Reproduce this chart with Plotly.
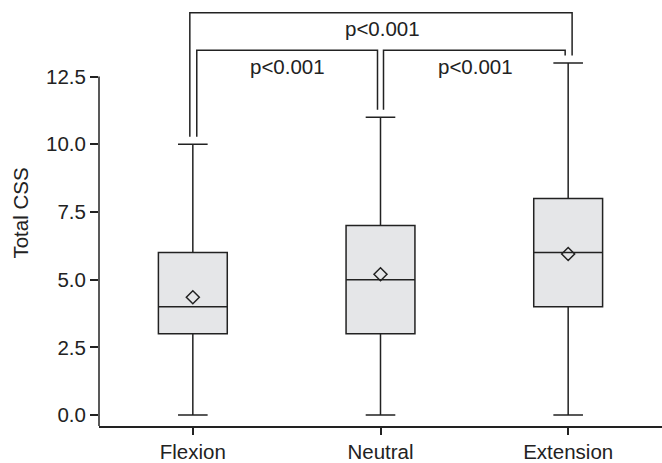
import plotly.graph_objects as go

categories = ["Flexion", "Neutral", "Extension"]
minimum = [0, 0, 0]
q1 = [3, 3, 4]
median = [4, 5, 6]
q3 = [6, 7, 8]
maximum = [10, 11, 13]
mean = [4.35, 5.2, 5.95]
y_ticks = [0, 2.5, 5, 7.5, 10, 12.5]
comparisons = [(0, 1, "p<0.001"), (1, 2, "p<0.001"), (0, 2, "p<0.001")]

INK = "#222222"
FONT = "Liberation Sans, Arial, sans-serif"
FS = 20.5

fig = go.Figure()
fig.add_trace(go.Box(
    x=categories, q1=q1, median=median, q3=q3,
    lowerfence=minimum, upperfence=maximum,
    width=0.367, whiskerwidth=0.43,
    fillcolor="#e5e6e8", line=dict(color=INK, width=1.5),
    boxpoints=False, hoverinfo="skip", showlegend=False,
))
fig.add_trace(go.Scatter(
    x=categories, y=mean, mode="markers",
    marker=dict(symbol="diamond-open", size=10, color=INK, line=dict(width=1.5, color=INK)),
    showlegend=False, hoverinfo="skip",
))

y_bottom, y_top = -0.404, 15.33
fig.add_shape(type="line", xref="paper", x0=0, x1=0, yref="y", y0=y_bottom, y1=max(y_ticks),
              line=dict(color=INK, width=1.5))

gap = 0.28
inner_level = 13.47
outer_level = 14.86
shapes_lw = 1.5

def bracket(i, j, level, xoff_l, xoff_r):
    yl = maximum[i] + gap
    yr = maximum[j] + gap
    xl = i + xoff_l
    xr = j + xoff_r
    fig.add_trace(go.Scatter(x=[xl, xl, xr, xr], y=[yl, level, level, yr], mode="lines",
                             line=dict(color=INK, width=shapes_lw), showlegend=False,
                             hoverinfo="skip", xaxis="x2"))

bracket(0, 1, inner_level, 0.021, -0.016)
bracket(1, 2, inner_level, 0.016, -0.016)
bracket(0, 2, outer_level, -0.016, 0.021)

label_pos = [(0.503, 12.87), (1.508, 12.87), (1.01, 14.26)]
for (i, j, txt), (lx, ly) in zip(comparisons, label_pos):
    fig.add_annotation(x=lx, y=ly, xref="x2", yref="y", text=txt, showarrow=False,
                       font=dict(family=FONT, size=FS, color=INK), yanchor="middle")

fig.update_layout(
    width=662, height=463,
    margin=dict(l=99, r=0, t=0, b=35),
    paper_bgcolor="white", plot_bgcolor="white",
    font=dict(family=FONT, size=FS, color=INK),
    xaxis=dict(range=[-0.5, 2.5], showline=True, linecolor=INK, linewidth=1.5,
               ticks="outside", ticklen=7, tickcolor=INK, tickwidth=1.5,
               showgrid=False, zeroline=False, tickfont=dict(size=FS, color=INK)),
    xaxis2=dict(range=[-0.5, 2.5], overlaying="x", visible=False),
    yaxis=dict(range=[y_bottom, y_top], showline=False, tickvals=y_ticks,
               ticktext=[f"{v:.1f}" for v in y_ticks],
               ticks="outside", ticklen=8, tickcolor=INK, tickwidth=1.5,
               showgrid=False, zeroline=False, tickfont=dict(size=FS, color=INK),
               title=dict(text="Total CSS", font=dict(size=FS, color=INK), standoff=11)),
)
fig.write_html("out.html", config={"displayModeBar": False},
               post_script="document.body.style.margin='0';")
